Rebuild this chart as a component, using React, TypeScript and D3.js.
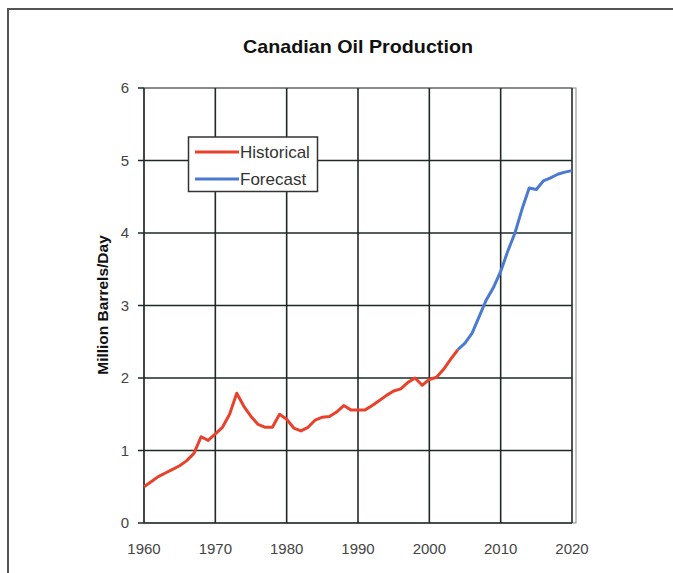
import React from "react";
import * as d3 from "d3";

const historicalYears = [1960,1961,1962,1963,1964,1965,1966,1967,1968,1969,1970,1971,1972,1973,1974,1975,1976,1977,1978,1979,1980,1981,1982,1983,1984,1985,1986,1987,1988,1989,1990,1991,1992,1993,1994,1995,1996,1997,1998,1999,2000,2001,2002,2003,2004];
const historicalValues = [0.5,0.57,0.64,0.69,0.74,0.79,0.86,0.96,1.19,1.14,1.23,1.32,1.5,1.79,1.61,1.47,1.36,1.32,1.32,1.5,1.43,1.31,1.27,1.32,1.42,1.46,1.47,1.53,1.62,1.56,1.56,1.56,1.62,1.69,1.76,1.82,1.85,1.94,2.0,1.9,1.98,2.01,2.12,2.26,2.39];
const forecastYears = [2004,2005,2006,2007,2008,2009,2010,2011,2012,2013,2014,2015,2016,2017,2018,2019,2020];
const forecastValues = [2.39,2.48,2.62,2.85,3.08,3.25,3.47,3.75,4.0,4.33,4.62,4.6,4.72,4.76,4.81,4.84,4.86];
const xTicks = [1960,1970,1980,1990,2000,2010,2020];
const yTicks = [0,1,2,3,4,5,6];
const seriesNames = ["Historical","Forecast"];

const W = 673, H = 573;
const left = 144, right = 572, top = 88, bottom = 523;
const RED = "#e8412c";
const BLUE = "#4a7bd0";
const GRID = "#1f2a27";
const FONT = "'Liberation Sans', Arial, sans-serif";

export default function App() {
  const x = d3.scaleLinear().domain([1960, 2020]).range([left, right]);
  const y = d3.scaleLinear().domain([0, 6]).range([bottom, top]);
  const line = d3.line<[number, number]>().x(d => x(d[0])).y(d => y(d[1]));
  const hist = historicalYears.map((yr, i) => [yr, historicalValues[i]] as [number, number]);
  const fc = forecastYears.map((yr, i) => [yr, forecastValues[i]] as [number, number]);

  return (
    <svg width={W} height={H} style={{ position: "absolute", left: 0, top: 0, background: "#fff" }} fontFamily={FONT}>
      <rect x={0} y={0} width={W} height={H} fill="#fff" />
      {/* outer frame */}
      <line x1={7} y1={9} x2={W} y2={9} stroke="#555" strokeWidth={2} />
      <line x1={8} y1={8} x2={8} y2={H} stroke="#555" strokeWidth={2} />
      {/* title */}
      <text x={358} y={53} textAnchor="middle" fontSize={19} fontWeight="bold" fill="#111" textLength={230} lengthAdjust="spacingAndGlyphs">Canadian Oil Production</text>
      {/* plot border (light) */}
      <rect x={left} y={top} width={right - left + 4} height={bottom - top} fill="none" stroke="#888" strokeWidth={1} />
      {/* gridlines */}
      {yTicks.map(t => (
        <line key={"gy" + t} x1={left} x2={right} y1={y(t)} y2={y(t)} stroke={t === 6 ? "#777" : GRID} strokeWidth={1.6} />
      ))}
      {xTicks.map(t => (
        <line key={"gx" + t} x1={x(t)} x2={x(t)} y1={top} y2={bottom} stroke={GRID} strokeWidth={1.6} />
      ))}
      {/* y ticks */}
      {yTicks.map(t => (
        <g key={"ty" + t}>
          <line x1={left - 6} x2={left} y1={y(t)} y2={y(t)} stroke={GRID} strokeWidth={1.5} />
          <text x={129} y={y(t) + 5} textAnchor="end" fontSize={15} fill="#444">{t}</text>
        </g>
      ))}
      {xTicks.map(t => (
        <text key={"tx" + t} x={x(t)} y={554} textAnchor="middle" fontSize={15} fill="#444">{t}</text>
      ))}
      {/* y label */}
      <text transform={`translate(108,${305}) rotate(-90)`} textAnchor="middle" fontSize={15.5} fontWeight="bold" fill="#111">Million Barrels/Day</text>
      {/* series */}
      <path d={line(hist) || ""} fill="none" stroke={RED} strokeWidth={3} strokeLinejoin="round" />
      <path d={line(fc) || ""} fill="none" stroke={BLUE} strokeWidth={3} strokeLinejoin="round" />
      {/* legend */}
      <rect x={188.5} y={137} width={129} height={54.5} fill="#fff" stroke="#333" strokeWidth={1.5} />
      {seriesNames.map((n, i) => (
        <g key={n}>
          <line x1={195} x2={239} y1={152 + i * 27} y2={152 + i * 27} stroke={i === 0 ? RED : BLUE} strokeWidth={3} />
          <text x={240} y={158 + i * 27} fontSize={17} fill="#333">{n}</text>
        </g>
      ))}
    </svg>
  );
}
